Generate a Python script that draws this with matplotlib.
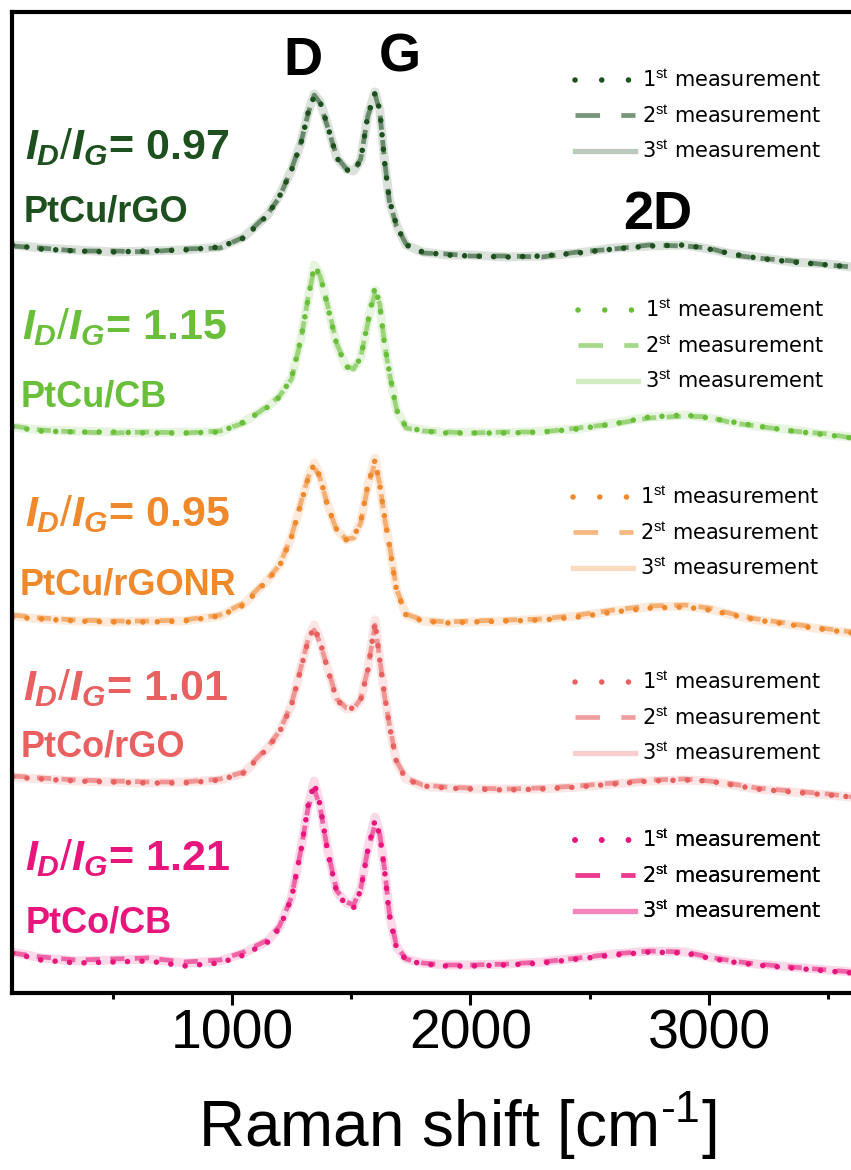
import matplotlib
matplotlib.use("Agg")
import matplotlib.pyplot as plt
from matplotlib.lines import Line2D
from matplotlib.ticker import MultipleLocator

plt.rcParams['font.family'] = ['Liberation Sans', 'DejaVu Sans']
plt.rcParams['mathtext.fontset'] = 'custom'
plt.rcParams['mathtext.rm'] = 'Liberation Sans'
plt.rcParams['mathtext.it'] = 'Liberation Sans:italic:bold'
plt.rcParams['mathtext.bf'] = 'Liberation Sans:bold'

# ---------------- data ----------------
raman_shift = [80, 200, 350, 500, 650, 800, 950, 1050, 1150, 1200, 1250, 1290, 1320, 1345,
               1370, 1400, 1440, 1480, 1510, 1540, 1570, 1600, 1620, 1640, 1660, 1690, 1730,
               1800, 1900, 2000, 2150, 2300, 2450, 2600, 2750, 2900, 3000, 3100, 3200, 3350,
               3500, 3600]

samples = ["PtCu/rGO", "PtCu/CB", "PtCu/rGONR", "PtCo/rGO", "PtCo/CB"]
id_ig = ["0.97", "1.15", "0.95", "1.01", "1.21"]

ptcu_rgo_m1 = [25,21,19,18,19,20,23,32,55,74,100,127,158,174,168,145,112,100,99,110,155,177,160,108,70,45,25,18,15,14,13,14,17,21,24,25,21,16,12,8,5,3]
ptcu_rgo_m2 = [24,22,19,19,18,21,22,33,56,73,101,128,157,175,167,144,113,101,98,111,154,176,158,110,69,44,26,17,16,14,14,13,18,21,25,24,22,15,12,9,5,3]
ptcu_rgo_m3 = [25,22,20,18,19,20,23,33,55,75,100,128,158,176,168,146,112,101,99,110,155,178,160,109,70,45,25,18,15,15,13,14,17,22,24,25,21,16,13,8,6,3]

ptcu_cb_m1 = [13,9,8,8,7,7,8,18,33,43,62,102,142,174,165,135,95,73,72,82,118,153,135,95,68,30,13,9,7,7,7,8,11,16,23,25,22,18,14,9,5,2]
ptcu_cb_m2 = [14,10,8,7,8,7,9,17,34,44,61,101,143,172,164,136,96,74,71,83,117,148,136,96,67,31,12,9,8,7,8,8,12,16,22,24,23,17,14,9,6,2]
ptcu_cb_m3 = [13,10,9,8,7,8,8,18,33,44,62,102,142,175,166,135,95,73,72,82,118,150,135,95,68,30,13,10,7,8,7,9,11,17,23,25,22,18,14,10,5,3]

ptcu_rgonr_m1 = [18,16,14,13,13,14,19,30,55,69,98,132,157,171,158,130,105,95,98,113,150,175,150,118,90,45,20,14,12,13,14,15,18,23,27,28,25,20,15,10,5,2]
ptcu_rgonr_m2 = [20,17,15,14,14,15,20,32,56,70,99,133,158,168,157,131,104,96,97,112,149,172,151,117,91,46,21,15,13,14,15,16,20,25,29,30,27,21,16,11,6,3]
ptcu_rgonr_m3 = [19,16,14,13,14,14,19,31,55,70,98,132,158,172,160,131,105,95,98,113,150,177,151,118,90,46,20,14,12,13,14,16,19,24,28,29,26,20,15,10,5,2]

ptco_rgo_m1 = [23,21,19,18,17,17,20,27,52,68,95,132,160,173,158,132,100,91,92,100,130,178,140,105,75,38,21,14,12,11,10,11,13,16,19,20,19,15,11,8,5,3]
ptco_rgo_m2 = [24,22,20,19,18,18,21,28,53,69,96,133,161,170,157,133,101,92,91,101,131,175,141,104,76,39,22,15,13,12,11,12,14,17,20,21,19,16,12,9,6,3]
ptco_rgo_m3 = [23,21,19,18,17,18,20,27,52,68,95,133,161,175,160,133,100,91,92,100,131,180,141,105,75,38,21,14,12,11,11,11,13,16,19,20,19,15,11,8,5,3]

ptco_cb_m1 = [22,15,12,13,14,9,12,20,33,47,77,125,170,192,170,125,82,70,67,85,125,155,140,105,60,27,15,11,9,9,10,12,16,20,23,22,17,13,10,7,4,2]
ptco_cb_m2 = [22,18,15,16,17,13,15,23,35,49,78,126,168,186,168,126,84,73,70,86,126,150,141,106,62,29,16,12,10,10,11,13,17,21,24,23,18,14,11,8,5,3]
ptco_cb_m3 = [23,17,14,15,16,12,14,22,34,48,78,127,170,194,171,127,83,72,70,86,127,158,142,106,61,28,16,12,10,10,11,13,17,21,24,23,18,14,11,8,5,3]

spectra = [
    (ptcu_rgo_m1, ptcu_rgo_m2, ptcu_rgo_m3),
    (ptcu_cb_m1, ptcu_cb_m2, ptcu_cb_m3),
    (ptcu_rgonr_m1, ptcu_rgonr_m2, ptcu_rgonr_m3),
    (ptco_rgo_m1, ptco_rgo_m2, ptco_rgo_m3),
    (ptco_cb_m1, ptco_cb_m2, ptco_cb_m3),
]
legend_labels = [r"1$^{\mathrm{st}}$ measurement", r"2$^{\mathrm{st}}$ measurement",
                 r"3$^{\mathrm{st}}$ measurement"]
x_ticks = [1000, 2000, 3000]
peak_labels = ["D", "G", "2D"]
peak_positions = [1298, 1705, 2787]

# ---------------- style / layout ----------------
colors = ["#1d4f1f", "#6abf3a", "#f0882c", "#e8605f", "#e8157c"]
offsets = [723, 553, 358, 193, 18]
# layout in pixels (figure 851 x 1170)
W, H = 851, 1170
ax_left_px, ax_right_px, ax_top_px, ax_bot_px = 12, 856.8, 12, 993
ratio_pos = [(25, 147), (22, 327), (25, 514), (23, 688), (25, 858)]
name_pos = [(24, 212), (21, 397), (20, 585), (21, 747), (26, 923)]
legend_pos = [(575, 116), (578, 346), (573, 533), (575, 718), (575, 876)]

fig = plt.figure(figsize=(W / 100, H / 100), dpi=100)
ax = fig.add_axes([ax_left_px / W, (H - ax_bot_px) / H,
                   (ax_right_px - ax_left_px) / W, (ax_bot_px - ax_top_px) / H])
ax.set_xlim(78, 3620)
ax.set_ylim(0, ax_bot_px - ax_top_px)


def ax_frac(px, py):
    return ((px - ax_left_px) / (ax_right_px - ax_left_px),
            (ax_bot_px - py) / (ax_bot_px - ax_top_px))


for i, (m1, m2, m3) in enumerate(spectra):
    c = colors[i]
    off = offsets[i]
    y1 = [v + off for v in m1]
    y2 = [v + off for v in m2]
    y3 = [v + off for v in m3]
    ax.plot(raman_shift, y3, color=c, alpha=0.16, lw=6.5, solid_capstyle='round',
            solid_joinstyle='round')
    ax.plot(raman_shift, y2, color=c, alpha=0.6, lw=3.4, linestyle=(0, (3.0, 2.2)),
            dash_capstyle='butt')
    ax.plot(raman_shift, y1, color=c, alpha=1.0, lw=4.0, linestyle=(0, (0.01, 2.6)),
            dash_capstyle='round')

    # legend
    handles = [
        Line2D([], [], color=c, lw=4.0, linestyle=(0, (0.01, 4.8)), dash_capstyle='round'),
        Line2D([], [], color=c, alpha=0.6, lw=3.4, linestyle=(0, (5.2, 4.5))),
        Line2D([], [], color=c, alpha=0.3, lw=3.8),
    ]
    lx, ly = ax_frac(*legend_pos[i])
    leg = ax.legend(handles, legend_labels, loc='center left', bbox_to_anchor=(lx, ly),
                    frameon=False, prop={'family': 'DejaVu Sans', 'size': 15},
                    handlelength=2.9, handletextpad=0.3,
                    labelspacing=0.68, borderpad=0, borderaxespad=0)
    ax.add_artist(leg)

    # annotations
    rx, ry = ax_frac(*ratio_pos[i])
    ax.text(rx, ry, r"$\mathit{I_D/I_G}$= " + id_ig[i], transform=ax.transAxes,
            color=c, fontsize=31, fontweight='bold', ha='left', va='center')
    nx, ny = ax_frac(*name_pos[i])
    ax.text(nx, ny, samples[i], transform=ax.transAxes, color=c, fontsize=26,
            fontweight='bold', ha='left', va='center')

peak_y = [ax_bot_px - 75, ax_bot_px - 72, ax_bot_px - 229]
for lab, xp, yp in zip(peak_labels, peak_positions, peak_y):
    ax.text(xp, yp, lab, fontsize=39, fontweight='bold', ha='center', va='baseline',
            color='black')

ax.set_xticks(x_ticks)
ax.xaxis.set_minor_locator(MultipleLocator(500))
ax.set_yticks([])
ax.tick_params(axis='x', which='major', direction='out', length=8.5, width=2.2,
               labelsize=40, pad=3)
ax.tick_params(axis='x', which='minor', direction='out', length=4.3, width=2.2)
for s in ax.spines.values():
    s.set_linewidth(3.0)
ax.set_xlabel(r"Raman shift [cm$^{\text{-1}}$]", fontsize=46)
ax.xaxis.set_label_coords(*ax_frac(457, 1170 - 8))
ax.xaxis.label.set_va('bottom')

fig.savefig("out.png", dpi=100)
